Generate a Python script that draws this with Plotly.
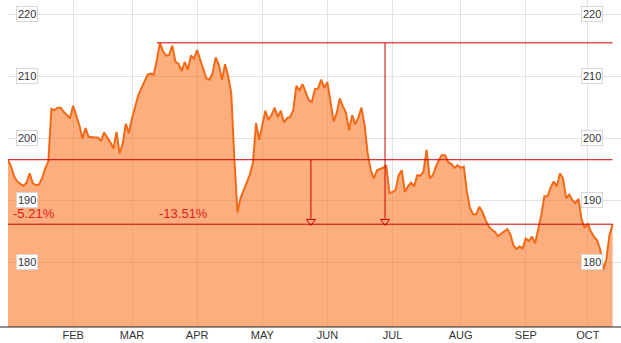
import plotly.graph_objects as go

# ---- data (trading-day index, closing price) ----
day = list(range(0, 196))
price = [
    196.5, 195.4, 193.8, 193.0, 192.6, 192.3, 192.8, 194.3, 192.7, 192.4,
    192.5, 193.5, 195.1, 196.2, 204.7, 204.5, 204.9, 204.9, 204.2, 203.7,
    203.2, 205.2, 203.7, 202.1, 199.9, 201.6, 200.2, 200.1, 200.1, 200.1,
    199.5, 200.9, 200.2, 199.3, 198.3, 201.0, 197.5, 199.1, 202.3, 200.8,
    203.2, 205.1, 206.9, 208.0, 209.0, 210.2, 210.4, 210.2, 212.6, 215.35,
    214.0, 213.3, 213.4, 214.9, 212.3, 212.0, 210.8, 212.3, 211.0, 213.3,
    212.8, 214.2, 212.6, 211.2, 209.6, 209.4, 210.5, 213.0, 211.8, 209.4,
    211.9, 210.0, 207.2, 196.7, 188.0, 190.3, 191.6, 192.7, 194.1, 196.0,
    202.4, 199.7, 202.1, 204.4, 202.9, 203.7, 204.9, 203.4, 204.4, 202.5,
    203.2, 203.4, 204.5, 208.4, 207.7, 208.7, 207.4, 206.1, 205.8, 207.9,
    208.0, 209.4, 208.1, 209.0, 205.9, 202.7, 204.0, 206.4, 205.1, 204.1,
    201.3, 203.7, 202.2, 203.3, 204.9, 202.1, 197.5, 194.8, 193.5, 194.8,
    195.0, 195.2, 195.6, 191.1, 191.3, 191.6, 194.0, 194.8, 191.3, 192.2,
    192.8, 192.2, 194.0, 193.9, 194.6, 198.1, 193.5, 194.0, 195.4, 196.5,
    197.3, 197.2, 196.1, 195.8, 195.2, 195.6, 195.2, 195.4, 191.3, 188.7,
    187.7, 187.7, 188.9, 188.1, 186.8, 185.8, 185.2, 184.9, 184.2, 184.6,
    185.0, 185.3, 184.5, 182.7, 182.1, 182.5, 182.2, 183.8, 183.4, 184.1,
    183.0, 185.2, 187.6, 190.6, 190.6, 192.0, 193.0, 192.2, 194.3, 193.5,
    190.3, 190.9, 190.0, 189.5, 190.2, 186.8, 185.5, 186.2, 184.9, 184.1,
    183.5, 182.0, 178.7, 180.5, 184.4, 186.1,
]
month_ticks = [21, 40, 61, 82, 103, 124, 146, 167, 187]
month_labels = ["FEB", "MAR", "APR", "MAY", "JUN", "JUL", "AUG", "SEP", "OCT"]
price_ticks = [180, 190, 200, 210, 220]
change_labels = ["-5.21%", "-13.51%"]
arrow_days = [97.7, 121.6]

# ---- derived reference levels ----
first = price[0]
last = price[-1]
peak = max(price)
peak_day = day[price.index(peak)]
end_day = day[-1]

RED = "#cc0000"
FONT = "Liberation Sans, Arial, sans-serif"

fig = go.Figure()
fig.add_trace(go.Scatter(
    x=day, y=price, mode="lines", fill="tozeroy",
    fillcolor="rgba(252,120,40,0.6)",
    line=dict(color="#f26a18", width=2),
    hoverinfo="skip", showlegend=False,
))
# reference lines
for xs, ys in [([day[0], end_day], [first, first]),
               ([peak_day - 1, end_day], [peak, peak]),
               ([day[0], end_day], [last, last])]:
    fig.add_trace(go.Scatter(x=xs, y=ys, mode="lines",
                             line=dict(color=RED, width=1),
                             hoverinfo="skip", showlegend=False))
# arrows
for ax, top in zip(arrow_days, [first, peak]):
    fig.add_trace(go.Scatter(x=[ax, ax], y=[top, last + 0.9], mode="lines",
                             line=dict(color=RED, width=1),
                             hoverinfo="skip", showlegend=False))
fig.add_trace(go.Scatter(
    x=arrow_days, y=[last + 0.45] * 2, mode="markers",
    marker=dict(symbol="triangle-down-open", size=8, color=RED,
                line=dict(color=RED, width=1)),
    hoverinfo="skip", showlegend=False,
))

# change labels
for lbl, xd, xs in zip(change_labels, [day[0], peak_day], [3, -3]):
    fig.add_annotation(x=xd, y=last, xref="x", yref="y", text=lbl,
                       showarrow=False, xanchor="left", yanchor="bottom",
                       xshift=xs, yshift=1,
                       font=dict(family=FONT, size=13, color="#e0201a"))

# price labels (boxed, both sides)
W, L = 613.0, 8.0
for v in price_ticks:
    for px in (27, 592):
        fig.add_annotation(x=(px - L) / W, xref="paper", y=v, yref="y",
                           xanchor="center", yanchor="middle",
                           text=str(v), showarrow=False,
                           bgcolor="white", bordercolor="#d8d8d8",
                           borderwidth=1, borderpad=1,
                           font=dict(family=FONT, size=11, color="#333333"))

# bottom axis line across full width
fig.add_shape(type="line", xref="paper", yref="paper",
              x0=-L / W, x1=1.02, y0=0, y1=0,
              line=dict(color="#222222", width=1))

fig.update_layout(
    width=621, height=343,
    margin=dict(l=8, r=0, t=0, b=16),
    paper_bgcolor="white", plot_bgcolor="white",
    font=dict(family=FONT),
    xaxis=dict(range=[0, 197.7], tickvals=month_ticks, ticktext=month_labels,
               showgrid=True, gridcolor="#e2e2e2", gridwidth=1,
               zeroline=False, showline=False, ticks="",
               tickfont=dict(size=11, color="#333333", family=FONT)),
    yaxis=dict(range=[169.52, 222.26], tickvals=price_ticks,
               showticklabels=False, showgrid=True, gridcolor="#e2e2e2",
               gridwidth=1, zeroline=False, showline=False, ticks=""),
)

fig.write_html("out.html")
